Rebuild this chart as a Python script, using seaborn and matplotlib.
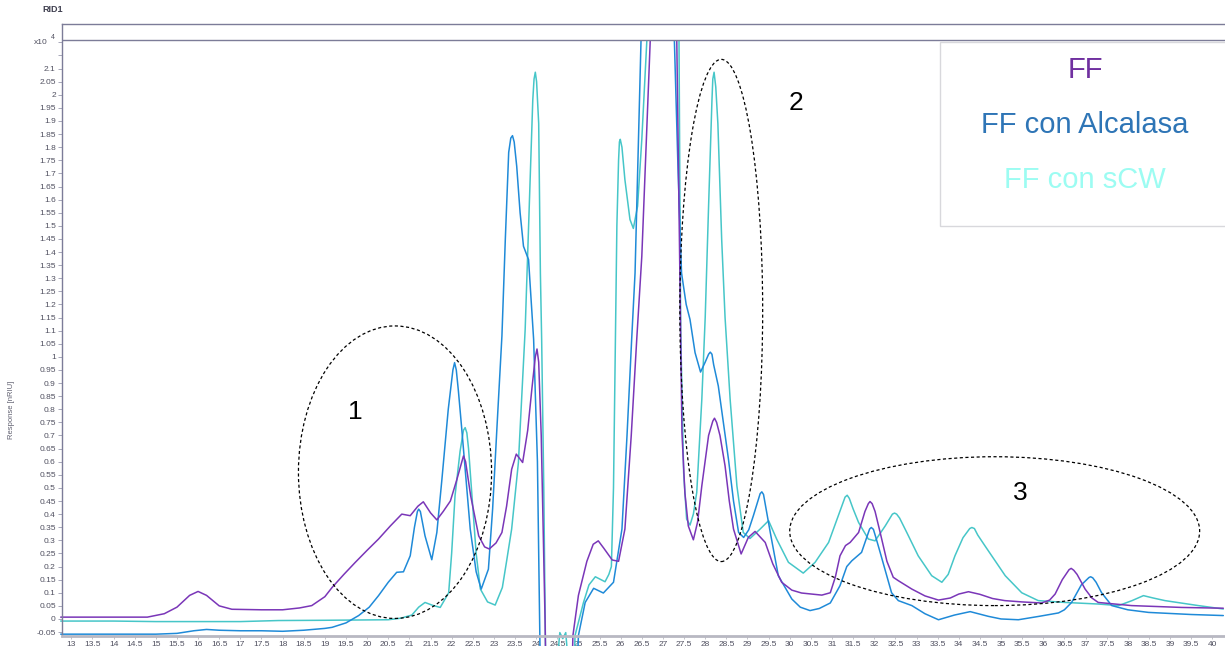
import numpy as np
import pandas as pd
import matplotlib
matplotlib.use("Agg")
import matplotlib.pyplot as plt
from matplotlib.patches import Ellipse, Rectangle
import seaborn as sns

# ---- data (retention time [min], response x10^4 nRIU) ----
ff_x = [12.75, 14.8, 15.2, 15.5, 15.8, 16.0, 16.2, 16.5, 16.8, 17.5, 18.0, 18.4, 18.69, 19.0, 19.17,
        19.45, 19.72, 20.0, 20.27, 20.55, 20.82, 21.02, 21.2, 21.33, 21.5, 21.65, 21.8, 21.97, 22.12,
        22.24, 22.28, 22.33, 22.45, 22.64, 22.78, 22.89, 23.05, 23.19, 23.3, 23.42, 23.53, 23.68, 23.8,
        23.9, 23.98, 24.02, 24.06, 24.12, 24.21, 24.26, 24.8, 24.87, 25.0, 25.2, 25.35, 25.47, 25.6,
        25.8, 25.95, 26.1, 26.25, 26.38, 26.5, 26.6, 26.7, 26.9, 27.2, 27.32, 27.37, 27.41, 27.45,
        27.52, 27.6, 27.72, 27.82, 27.92, 28.08, 28.18, 28.22, 28.27, 28.35, 28.47, 28.57, 28.67, 28.85,
        29.02, 29.18, 29.42, 29.6, 29.81, 30.05, 30.28, 30.76, 30.96, 31.08, 31.19, 31.32, 31.43, 31.63,
        31.78, 31.86, 31.9, 31.95, 32.02, 32.14, 32.3, 32.45, 32.57, 32.89, 33.2, 33.52, 33.8, 34.0,
        34.23, 34.5, 34.8, 35.09, 35.5, 35.96, 36.15, 36.28, 36.45, 36.61, 36.66, 36.72, 36.8, 36.99,
        37.15, 37.3, 38.09, 39.27, 40.26]
ff_y = [0.007, 0.007, 0.02, 0.045, 0.09, 0.105, 0.09, 0.05, 0.037, 0.035, 0.035, 0.042, 0.051, 0.085, 0.12,
        0.17, 0.216, 0.262, 0.305, 0.355, 0.40, 0.394, 0.43, 0.447, 0.405, 0.378, 0.41, 0.45, 0.53,
        0.60, 0.622, 0.60, 0.47, 0.317, 0.275, 0.267, 0.29, 0.33, 0.43, 0.571, 0.629, 0.597, 0.72,
        0.88, 1.0, 1.03, 0.98, 0.7, 0.0, -0.5, -0.5, -0.063, 0.09, 0.22, 0.285, 0.298, 0.27,
        0.225, 0.22, 0.343, 0.7, 1.067, 1.384, 1.8, 2.21, 3.5, 3.5, 2.3, 1.7, 1.22, 0.71,
        0.48, 0.355, 0.302, 0.37, 0.508, 0.7, 0.755, 0.766, 0.75, 0.7, 0.584, 0.45, 0.343, 0.248,
        0.311, 0.334, 0.292, 0.21, 0.14, 0.11, 0.099, 0.091, 0.10, 0.16, 0.241, 0.28, 0.292, 0.33,
        0.41, 0.44, 0.448, 0.44, 0.41, 0.33, 0.22, 0.159, 0.146, 0.114, 0.088, 0.072, 0.08, 0.095,
        0.104, 0.094, 0.078, 0.07, 0.065, 0.061, 0.072, 0.095, 0.15, 0.188, 0.193, 0.186, 0.17, 0.114,
        0.08, 0.063, 0.051, 0.044, 0.041]

alc_x = [12.75, 15.0, 15.5, 15.9, 16.2, 16.5, 17.0, 17.5, 18.0, 18.5, 19.0, 19.17, 19.5, 19.8, 20.05,
         20.27, 20.5, 20.7, 20.86, 21.02, 21.12, 21.19, 21.22, 21.26, 21.37, 21.53, 21.65, 21.77, 21.92,
         22.03, 22.07, 22.11, 22.16, 22.24, 22.44, 22.58, 22.7, 22.87, 22.97, 23.07, 23.19, 23.27, 23.35,
         23.4, 23.44, 23.48, 23.54, 23.62, 23.7, 23.82, 23.94, 24.03, 24.09, 24.12, 24.9, 25.0, 25.16,
         25.36, 25.59, 25.83, 26.03, 26.15, 26.26, 26.34, 26.42, 26.48, 26.7, 27.1, 27.27, 27.36, 27.44,
         27.55, 27.64, 27.76, 27.89, 28.0, 28.08, 28.12, 28.16, 28.2, 28.31, 28.43, 28.55, 28.67, 28.79,
         28.91, 29.03, 29.14, 29.3, 29.34, 29.38, 29.44, 29.54, 29.73, 30.05, 30.25, 30.48, 30.7, 30.96,
         31.19, 31.35, 31.47, 31.7, 31.82, 31.89, 31.93, 31.98, 32.04, 32.14, 32.41, 32.57, 32.89, 33.2,
         33.52, 33.9, 34.27, 34.7, 35.0, 35.41, 35.9, 36.36, 36.5, 36.67, 36.9, 37.08, 37.12, 37.17,
         37.25, 37.38, 37.62, 38.0, 38.49, 39.5, 40.26]
alc_y = [-0.058, -0.058, -0.055, -0.045, -0.040, -0.043, -0.045, -0.045, -0.047, -0.043, -0.036, -0.032, -0.015, 0.013, 0.045,
         0.089, 0.14, 0.178, 0.18, 0.241, 0.35, 0.41, 0.419, 0.41, 0.317, 0.226, 0.33, 0.533, 0.8,
         0.95, 0.978, 0.95, 0.87, 0.724, 0.343, 0.18, 0.114, 0.19, 0.42, 0.724, 1.08, 1.448, 1.78,
         1.835, 1.844, 1.82, 1.727, 1.55, 1.422, 1.371, 1.067, 0.6, -0.1, -0.5, -0.5, -0.063, 0.063,
         0.117, 0.099, 0.14, 0.343, 0.7, 1.067, 1.32, 1.83, 2.21, 3.5, 3.5, 2.21, 1.70, 1.32,
         1.2, 1.143, 1.016, 0.942, 0.98, 1.01, 1.018, 1.01, 0.97, 0.889, 0.75, 0.61, 0.45, 0.33,
         0.311, 0.34, 0.394, 0.478, 0.485, 0.475, 0.42, 0.33, 0.165, 0.076, 0.045, 0.032, 0.04, 0.061,
         0.127, 0.2, 0.222, 0.254, 0.31, 0.343, 0.349, 0.342, 0.31, 0.254, 0.10, 0.07, 0.051, 0.02,
         -0.003, 0.015, 0.028, 0.01, 0.0, -0.003, 0.01, 0.023, 0.035, 0.063, 0.13, 0.158, 0.161, 0.157,
         0.14, 0.10, 0.051, 0.035, 0.025, 0.017, 0.013]

scw_x = [12.75, 14.0, 15.0, 16.0, 17.0, 17.9, 19.0, 20.5, 20.8, 21.06, 21.22, 21.37, 21.55, 21.73, 21.93,
         22.0, 22.08, 22.2, 22.28, 22.32, 22.36, 22.4, 22.48, 22.58, 22.68, 22.85, 23.03, 23.2, 23.3,
         23.42, 23.58, 23.66, 23.74, 23.8, 23.86, 23.92, 23.95, 23.98, 24.01, 24.06, 24.1, 24.13, 24.18,
         24.22, 24.25, 24.45, 24.56, 24.63, 24.7, 24.8, 24.88, 24.92, 25.12, 25.25, 25.4, 25.63, 25.72,
         25.78, 25.83, 25.87, 25.91, 25.95, 25.97, 25.99, 26.03, 26.1, 26.22, 26.3, 26.4, 26.5, 26.62,
         26.8, 27.2, 27.38, 27.42, 27.49, 27.56, 27.64, 27.72, 27.8, 27.92, 28.0, 28.08, 28.16, 28.18,
         28.21, 28.25, 28.3, 28.39, 28.47, 28.59, 28.75, 28.9, 29.06, 29.3, 29.5, 29.69, 29.97, 30.32,
         30.6, 30.92, 31.15, 31.31, 31.36, 31.41, 31.5, 31.63, 31.86, 32.02, 32.26, 32.43, 32.48, 32.53,
         32.6, 32.77, 33.04, 33.36, 33.6, 33.75, 33.91, 34.1, 34.26, 34.31, 34.37, 34.45, 34.62, 35.1,
         35.49, 35.88, 36.52, 37.3, 37.78, 38.1, 38.37, 38.6, 38.88, 39.67, 40.26]
scw_y = [-0.008, -0.008, -0.01, -0.01, -0.01, -0.006, -0.005, -0.003, 0.003, 0.015, 0.045, 0.063, 0.052, 0.044, 0.10,
         0.25, 0.47, 0.64, 0.72, 0.73, 0.71, 0.65, 0.47, 0.25, 0.114, 0.065, 0.053, 0.12, 0.22,
         0.343, 0.597, 0.85, 1.105, 1.40, 1.70, 1.98, 2.06, 2.086, 2.05, 1.89, 1.32, 1.067, 0.5,
         -0.1, -0.5, -0.25, -0.052, -0.075, -0.052, -0.25, -0.3, -0.063, 0.063, 0.13, 0.161, 0.142, 0.17,
         0.2, 0.5, 1.0, 1.5, 1.75, 1.82, 1.83, 1.80, 1.676, 1.524, 1.49, 1.575, 1.83, 2.21,
         3.5, 3.5, 2.21, 1.1, 0.559, 0.381, 0.358, 0.40, 0.483, 0.838, 1.15, 1.575, 1.98, 2.06,
         2.086, 2.03, 1.89, 1.448, 1.15, 0.838, 0.508, 0.33, 0.307, 0.343, 0.375, 0.305, 0.216, 0.175,
         0.216, 0.292, 0.394, 0.465, 0.472, 0.46, 0.42, 0.368, 0.305, 0.298, 0.355, 0.40, 0.404, 0.40,
         0.385, 0.33, 0.241, 0.165, 0.14, 0.17, 0.241, 0.31, 0.345, 0.349, 0.345, 0.32, 0.279, 0.165,
         0.10, 0.07, 0.063, 0.057, 0.051, 0.07, 0.089, 0.08, 0.07, 0.051, 0.038]

series_names = ["FF con sCW", "FF con Alcalasa", "FF"]
line_colors = {"FF": "#7a36b8", "FF con Alcalasa": "#1f8ad8", "FF con sCW": "#46c6c8"}
legend_colors = {"FF": "#7030A0", "FF con Alcalasa": "#2E75B6", "FF con sCW": "#9CFCF2"}

x_ticks = np.arange(13, 40.01, 0.5)
y_ticks = np.arange(-0.05, 2.101, 0.05)

frames = []
for name, xs, ys in [("FF con sCW", scw_x, scw_y), ("FF con Alcalasa", alc_x, alc_y), ("FF", ff_x, ff_y)]:
    frames.append(pd.DataFrame({"rt": xs, "resp": ys, "series": name}))
df = pd.concat(frames, ignore_index=True)

sns.set_style("white")
plt.rcParams["font.family"] = ["Liberation Sans", "DejaVu Sans"]
plt.rcParams["lines.solid_joinstyle"] = "round"

fig = plt.figure(figsize=(12.25, 6.46), dpi=100)
ax = fig.add_axes([62 / 1225, 10 / 646, 1 - 62 / 1225, (636 - 24) / 646])

sns.lineplot(data=df, x="rt", y="resp", hue="series", hue_order=series_names,
             palette=line_colors, estimator=None, sort=False, legend=False,
             linewidth=1.1, ax=ax)

ax.set_xlim(12.78, 40.3)
ax.set_ylim(-0.065, 2.27)

clip = Rectangle((10, -1), 40, 3.21, transform=ax.transData)
for ln in ax.lines:
    ln.set_clip_path(clip)
    ln.set_solid_joinstyle("round")

ax.axhline(2.21, color="#7c7c98", lw=1.0, zorder=5)

ax.set_xticks(x_ticks)
ax.set_xticklabels([f"{v:g}" for v in x_ticks])
ax.set_yticks(list(y_ticks) + [2.15, 2.2])
ax.set_yticklabels([f"{v:.2f}".rstrip("0").rstrip(".") if abs(v) > 1e-9 else "0" for v in y_ticks] + ["", ""])
ax.tick_params(axis="y", labelsize=6, length=3, width=0.6, color="#9a9aae", labelcolor="#505060", pad=1.5, left=True)
ax.tick_params(axis="x", labelsize=6, length=2, width=0.6, color="#b8b8c0", labelcolor="#505060", pad=1.5, bottom=True)
ax.set_xlabel("")
ax.set_ylabel("")

for side in ["left", "top"]:
    ax.spines[side].set_color("#7c7c98")
    ax.spines[side].set_linewidth(1.0)
ax.spines["bottom"].set_color("#b8b8c2")
ax.spines["bottom"].set_linewidth(2.0)
ax.spines["right"].set_visible(False)

# "x10^4" multiplier at top of y axis
ax.text(-0.012, 2.2, "x10", transform=ax.get_yaxis_transform(), ha="right", va="center",
        fontsize=6, color="#505060")
ax.text(-0.0075, 2.205, "4", transform=ax.get_yaxis_transform(), ha="center", va="bottom",
        fontsize=5, color="#505060")

fig.text(42 / 1225, 1 - 10 / 646, "RID1", fontsize=6.5, fontweight="bold", color="#404050",
         ha="left", va="center")
fig.text(12 / 1225, 1 - 410 / 646, "Response [nRIU]", fontsize=5.5, color="#606070",
         rotation=90, ha="center", va="center")

# legend box
ax.add_patch(Rectangle((0.755, 0.670), 0.26, 0.301, transform=ax.transAxes, fill=True,
                       facecolor="white", edgecolor="#d8d8dc", lw=1.0, zorder=6, clip_on=False))
for name, yy in [("FF", 0.925), ("FF con Alcalasa", 0.835), ("FF con sCW", 0.7455)]:
    ax.text(0.8796, yy, name, transform=ax.transAxes, ha="center", va="center",
            fontsize=21, color=legend_colors[name], zorder=7)

# dashed ellipses with labels
ellipses = [(20.66, 0.56, 4.57, 1.116), (28.38, 1.177, 1.96, 1.916), (34.85, 0.335, 9.70, 0.568)]
for cx, cy, w, h in ellipses:
    ax.add_patch(Ellipse((cx, cy), w, h, fill=False, edgecolor="black", lw=0.9,
                         linestyle=(0, (2.5, 2)), zorder=4))
for lab, lx, ly in [("1", 19.72, 0.789), ("2", 30.15, 1.97), ("3", 35.45, 0.48)]:
    ax.text(lx, ly, lab, fontsize=19, color="black", ha="center", va="center")

fig.savefig("out.png", dpi=100)
